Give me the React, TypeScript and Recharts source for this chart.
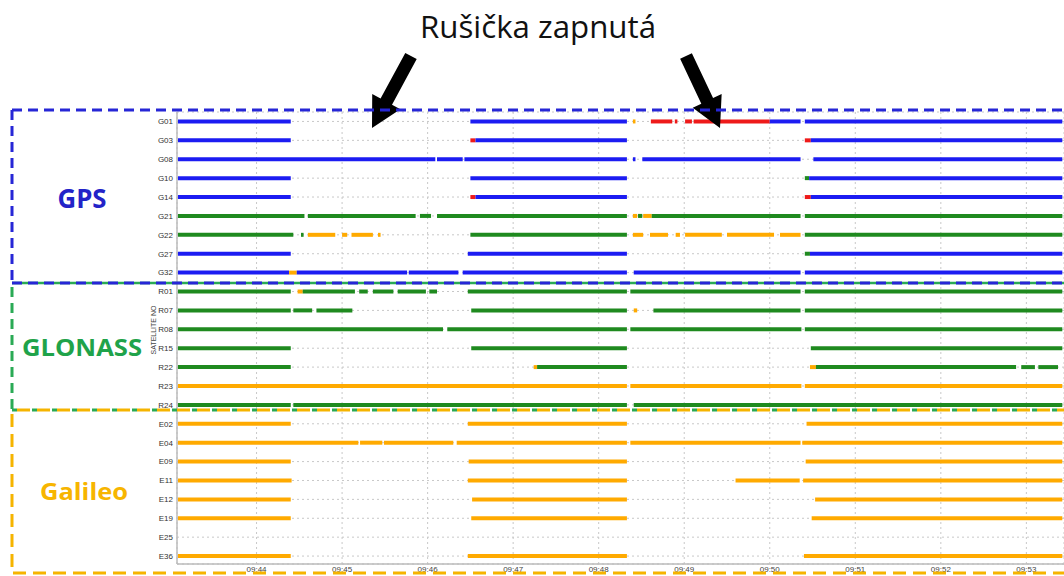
import { LineChart, Line, XAxis, YAxis, CartesianGrid } from 'recharts';

// Satelity (poradi radku odshora)
const SATS = [
  'G01', 'G03', 'G08', 'G10', 'G14', 'G21', 'G22', 'G27', 'G32',
  'R01', 'R07', 'R08', 'R15', 'R22', 'R23', 'R24',
  'E02', 'E04', 'E09', 'E11', 'E12', 'E19', 'E25', 'E36',
];

// Cas v minutach po 09:00
const X_TICKS = [44, 45, 46, 47, 48, 49, 50, 51, 52, 53];

type Seg = [number, number, string];
interface Track { sat: string; segs: Seg[] }

// b = blue, g = green, o = orange, r = red
const GPS_TRACKS: Track[] = [
  { sat: 'G01', segs: [[43.08, 44.40, 'b'], [46.50, 48.33, 'b'], [48.40, 48.43, 'o'], [48.61, 48.86, 'r'], [48.89, 48.92, 'r'], [49.01, 49.09, 'r'], [49.11, 50.00, 'r'], [50.00, 50.36, 'b'], [50.41, 53.42, 'b']] },
  { sat: 'G03', segs: [[43.08, 44.40, 'b'], [46.50, 46.56, 'r'], [46.56, 48.33, 'b'], [50.41, 50.48, 'r'], [50.48, 53.42, 'b']] },
  { sat: 'G08', segs: [[43.08, 46.09, 'b'], [46.11, 46.41, 'b'], [46.43, 48.33, 'b'], [48.40, 48.43, 'b'], [48.51, 50.36, 'b'], [50.51, 53.42, 'b']] },
  { sat: 'G10', segs: [[43.08, 44.40, 'b'], [46.50, 48.33, 'b'], [50.41, 50.46, 'g'], [50.46, 53.42, 'b']] },
  { sat: 'G14', segs: [[43.08, 44.40, 'b'], [46.50, 46.56, 'r'], [46.56, 48.33, 'b'], [50.41, 50.48, 'r'], [50.48, 53.42, 'b']] },
  { sat: 'G21', segs: [[43.08, 44.56, 'g'], [44.60, 45.86, 'g'], [45.91, 46.04, 'g'], [46.11, 48.33, 'g'], [48.40, 48.45, 'o'], [48.46, 48.51, 'g'], [48.52, 48.62, 'o'], [48.62, 50.36, 'g'], [50.41, 53.42, 'g']] },
  { sat: 'G22', segs: [[43.08, 44.43, 'g'], [44.52, 44.55, 'g'], [44.60, 44.92, 'o'], [45.00, 45.06, 'o'], [45.11, 45.36, 'o'], [45.42, 45.45, 'o'], [46.50, 48.33, 'g'], [48.40, 48.52, 'o'], [48.60, 48.81, 'o'], [48.90, 48.95, 'o'], [49.01, 49.44, 'o'], [49.50, 50.05, 'o'], [50.12, 50.36, 'o'], [50.41, 53.42, 'g']] },
  { sat: 'G27', segs: [[43.08, 44.40, 'b'], [46.47, 48.33, 'b'], [50.41, 50.47, 'g'], [50.47, 53.42, 'b']] },
  { sat: 'G32', segs: [[43.08, 44.38, 'b'], [44.38, 44.47, 'o'], [44.47, 45.76, 'b'], [45.78, 46.36, 'b'], [46.41, 48.33, 'b'], [48.41, 50.36, 'b'], [50.41, 53.42, 'b']] },
];

const GLONASS_TRACKS: Track[] = [
  { sat: 'R01', segs: [[43.08, 44.40, 'g'], [44.48, 44.54, 'o'], [44.54, 45.15, 'g'], [45.20, 45.30, 'g'], [45.36, 45.60, 'g'], [45.65, 45.98, 'g'], [46.02, 46.11, 'g'], [46.47, 48.33, 'g'], [48.37, 50.36, 'g'], [50.41, 53.42, 'g']] },
  { sat: 'R07', segs: [[43.08, 44.40, 'g'], [44.43, 44.65, 'g'], [44.70, 45.12, 'g'], [46.51, 48.33, 'g'], [48.41, 48.45, 'o'], [48.64, 50.36, 'g'], [50.41, 53.42, 'g']] },
  { sat: 'R08', segs: [[43.08, 46.18, 'g'], [46.23, 48.33, 'g'], [48.37, 50.37, 'g'], [50.41, 53.42, 'g']] },
  { sat: 'R15', segs: [[43.08, 44.40, 'g'], [46.51, 48.33, 'g'], [50.48, 53.42, 'g']] },
  { sat: 'R22', segs: [[43.08, 44.40, 'g'], [47.24, 47.28, 'o'], [47.28, 48.33, 'g'], [50.47, 50.54, 'o'], [50.54, 52.88, 'g'], [52.94, 53.10, 'g'], [53.14, 53.37, 'g']] },
  { sat: 'R23', segs: [[43.08, 48.33, 'o'], [48.37, 50.37, 'o'], [50.41, 53.42, 'o']] },
  { sat: 'R24', segs: [[43.08, 44.40, 'g'], [44.43, 48.33, 'g'], [48.41, 53.42, 'g']] },
];

const GALILEO_TRACKS: Track[] = [
  { sat: 'E02', segs: [[43.08, 44.40, 'o'], [46.47, 48.33, 'o'], [50.43, 53.42, 'o']] },
  { sat: 'E04', segs: [[43.08, 45.19, 'o'], [45.21, 45.47, 'o'], [45.49, 46.30, 'o'], [46.34, 48.33, 'o'], [48.37, 50.36, 'o'], [50.38, 53.42, 'o']] },
  { sat: 'E09', segs: [[43.08, 44.40, 'o'], [46.48, 48.33, 'o'], [50.42, 53.42, 'o']] },
  { sat: 'E11', segs: [[43.08, 44.41, 'o'], [46.47, 48.33, 'o'], [49.60, 50.35, 'o'], [50.39, 53.42, 'o']] },
  { sat: 'E12', segs: [[43.08, 44.40, 'o'], [46.52, 48.33, 'o'], [50.53, 53.42, 'o']] },
  { sat: 'E19', segs: [[43.08, 44.40, 'o'], [46.51, 48.33, 'o'], [50.49, 53.42, 'o']] },
  { sat: 'E25', segs: [] },
  { sat: 'E36', segs: [[43.08, 44.40, 'o'], [46.47, 48.33, 'o'], [50.40, 53.42, 'o']] },
];

const COLORS: Record<string, string> = {
  b: '#1c1cf2',
  g: '#1f8a1f',
  o: '#ffaa00',
  r: '#ee1a1a',
};

const ROW_TICKS = SATS.map((_, i) => i);

// jeden Line na kazdy usek
const segments = [...GPS_TRACKS, ...GLONASS_TRACKS, ...GALILEO_TRACKS].flatMap((t) => {
  const row = SATS.indexOf(t.sat);
  return t.segs.map(([s, e, c], k) => ({
    key: `${t.sat}-${k}`,
    color: COLORS[c],
    data: [{ x: s, y: row }, { x: e, y: row }],
  }));
});

// sipka jako polygon
function arrow(x1: number, y1: number, x2: number, y2: number, sw: number, hw: number, hl: number) {
  const dx = x2 - x1;
  const dy = y2 - y1;
  const len = Math.hypot(dx, dy);
  const ux = dx / len;
  const uy = dy / len;
  const px = -uy;
  const py = ux;
  const bx = x2 - ux * hl;
  const by = y2 - uy * hl;
  const pts = [
    [x1 + px * sw / 2, y1 + py * sw / 2],
    [bx + px * sw / 2, by + py * sw / 2],
    [bx + px * hw / 2, by + py * hw / 2],
    [x2, y2],
    [bx - px * hw / 2, by - py * hw / 2],
    [bx - px * sw / 2, by - py * sw / 2],
    [x1 - px * sw / 2, y1 - py * sw / 2],
  ];
  return pts.map((p) => p.join(',')).join(' ');
}

const W = 1064;
const H = 576;

export default function App() {
  return (
    <div style={{ position: 'absolute', left: 0, top: 0, width: W, height: H, background: '#fff', fontFamily: '"Liberation Sans", Arial, sans-serif' }}>
      <div style={{ position: 'absolute', left: 0, top: 0 }}>
        <LineChart width={W} height={H} margin={{ top: 112, right: 0, bottom: 0, left: 0 }}>
          <CartesianGrid stroke="#c8c8c8" strokeDasharray="2 3" />
          <XAxis
            type="number"
            dataKey="x"
            domain={[43.07, 53.44]}
            ticks={X_TICKS}
            interval={0}
            allowDataOverflow
            height={12}
            tickSize={0}
            tickMargin={2}
            tickFormatter={(m: number) => `09:${m}`}
            tick={{ fontSize: 8, fill: '#444' }}
            axisLine={{ stroke: '#bbb', strokeWidth: 1.5 }}
            tickLine={false}
          />
          <YAxis
            type="number"
            dataKey="y"
            domain={[-0.5, 23.42]}
            reversed
            ticks={ROW_TICKS}
            interval={0}
            allowDataOverflow
            width={177}
            tickSize={0}
            tickMargin={4}
            tickFormatter={(i: number) => SATS[i] ?? ''}
            tick={{ fontSize: 8, fill: '#333' }}
            axisLine={{ stroke: '#bbb', strokeWidth: 1.5 }}
            tickLine={false}
          />
          {segments.map((s) => (
            <Line
              key={s.key}
              data={s.data}
              dataKey="y"
              type="linear"
              stroke={s.color}
              strokeWidth={4}
              dot={false}
              activeDot={false}
              isAnimationActive={false}
            />
          ))}
        </LineChart>
      </div>

      {/* anotace nad grafem */}
      <svg width={W} height={H} style={{ position: 'absolute', left: 0, top: 0, pointerEvents: 'none' }}>
        <text x={538} y={38} textAnchor="middle" fontSize={31} fill="#111" textLength={236} lengthAdjust="spacingAndGlyphs" fontFamily='"Open Sans", sans-serif'>
          Rušička zapnutá
        </text>
        <polygon points={arrow(411, 56, 372, 128, 13, 32, 30)} fill="#000" />
        <polygon points={arrow(686, 56, 720, 128, 13, 32, 30)} fill="#000" />

        <text transform="translate(156,330) rotate(-90)" textAnchor="middle" fontSize={7} fill="#444">SATELLITE NO</text>

        <g fill="none" strokeWidth={3}>
          {/* GPS box */}
          <path d="M12 110 H1064" stroke="#2626d6" strokeDasharray="10 6" />
          <path d="M12 110 V283" stroke="#2626d6" strokeDasharray="10 6" />
          {/* GLONASS box */}
          <path d="M12 283 H1064" stroke="#2aaa55" strokeWidth={2.5} />
          <path d="M12 283 H1064" stroke="#2626d6" strokeDasharray="10 6" />
          <path d="M12 287 V410" stroke="#2aaa55" strokeDasharray="10 6" />
          {/* Galileo box */}
          <path d="M12 410 H1064" stroke="#2aaa55" strokeDasharray="5 15" />
          <path d="M17 410 H1064" stroke="#f5b400" strokeDasharray="13 7" />
          <path d="M12 414 V573 H1064" stroke="#f5b400" strokeDasharray="13 7" />
        </g>

        <text x={82} y={208} textAnchor="middle" fontSize={26} fontWeight="bold" fill="#2323c8" textLength={49} lengthAdjust="spacingAndGlyphs" fontFamily='"Open Sans", sans-serif'>GPS</text>
        <text x={82} y={356} textAnchor="middle" fontSize={24} fontWeight="bold" fill="#1fa34a" textLength={120} lengthAdjust="spacingAndGlyphs" fontFamily='"Open Sans", sans-serif'>GLONASS</text>
        <text x={84} y={500} textAnchor="middle" fontSize={24} fontWeight="bold" fill="#f7b500" textLength={88} lengthAdjust="spacingAndGlyphs" fontFamily='"Open Sans", sans-serif'>Galileo</text>
      </svg>
    </div>
  );
}
